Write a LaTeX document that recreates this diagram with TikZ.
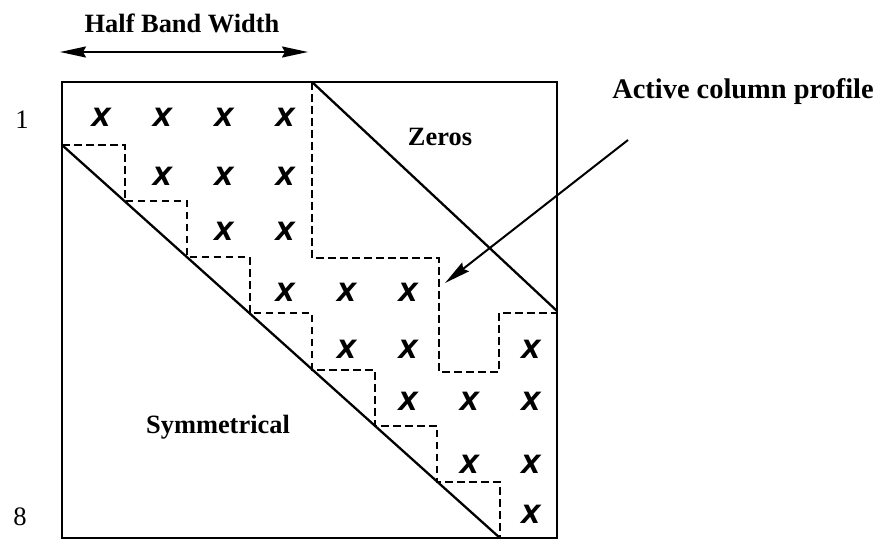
\documentclass[tikz,border=0pt]{standalone}
\usepackage{fontspec}
\setmainfont{Liberation Serif}
\newfontfamily\xfont{DejaVu Sans}
\usetikzlibrary{arrows.meta}
\begin{document}
\begin{tikzpicture}[x=0.5pt,y=-0.5pt,
  >={Stealth[length=13pt,width=5.5pt,inset=1.5pt]},
  lbl/.style={font=\fontsize{13.2pt}{15pt}\selectfont\bfseries, inner sep=0pt, anchor=base},
  num/.style={font=\fontsize{13.3pt}{15pt}\selectfont, inner sep=0pt, anchor=base},
  xm/.style={font=\xfont\bfseries\itshape\fontsize{12.6pt}{15pt}\selectfont, inner sep=0pt, anchor=base},
  boxline/.style={line width=1.3pt},
  diag/.style={line width=1.15pt},
  prof/.style={line width=1pt, dash pattern=on 3.8pt off 2.2pt},
  arr/.style={line width=1pt},
]
\useasboundingbox (0,0) rectangle (887,547);

% matrix outline
\coordinate (tl) at (62,82);
\coordinate (br) at (557,538);
\draw[boxline] (tl) rectangle (br);

% diagonals
\coordinate (ld1) at (62,145);
\coordinate (ld2) at (500,538);
\coordinate (ud1) at (312,82);
\coordinate (ud2) at (557,311);
\draw[diag] (ld1) -- (ld2);
\draw[diag] (ud1) -- (ud2);

% lower staircase (diagonal)
\draw[prof] (ld1) \foreach \k in {1,...,7}{ -- ({62+\k*62.57},{145+(\k-1)*56.14}) -- ({62+\k*62.57},{145+\k*56.14}) };

% active column profile (upper)
\draw[prof] (ud1) -- (312,258) -- (439,258) -- (439,372) -- (499,372) -- (499,313) -- (557,313);

% X entries
\foreach \r/\b/\cols in {1/126/{1,2,3,4}, 2/185/{2,3,4}, 3/240/{3,4}, 4/301/{4,5,6}, 5/358/{5,6,8}, 6/410/{6,7,8}, 7/473/{7,8}, 8/523/{8}}{
  \foreach \c in \cols {
    \node[xm] (x\r\c) at ({101+(\c-1)*61.4},\b) {X};
  }
}

% labels
\node[lbl] (hbw) at (182,32) {Half Band Width};
\coordinate (hbl) at (60,52);
\coordinate (hbr) at (308,52);
\draw[arr, <->] (hbl) -- (hbr);

\node[lbl, font=\fontsize{14.2pt}{16pt}\selectfont\bfseries] (acp) at (743,98) {Active column profile};
\coordinate (at) at (628,140);
\coordinate (ah) at (445,283);
\draw[arr, ->] (at) -- (ah);

\node[lbl] (zeros) at (440,145) {Zeros};
\node[lbl] (sym) at (218,433) {Symmetrical};
\node[num] (one) at (22,128) {1};
\node[num] (eight) at (20,525) {8};
\end{tikzpicture}
\end{document}
